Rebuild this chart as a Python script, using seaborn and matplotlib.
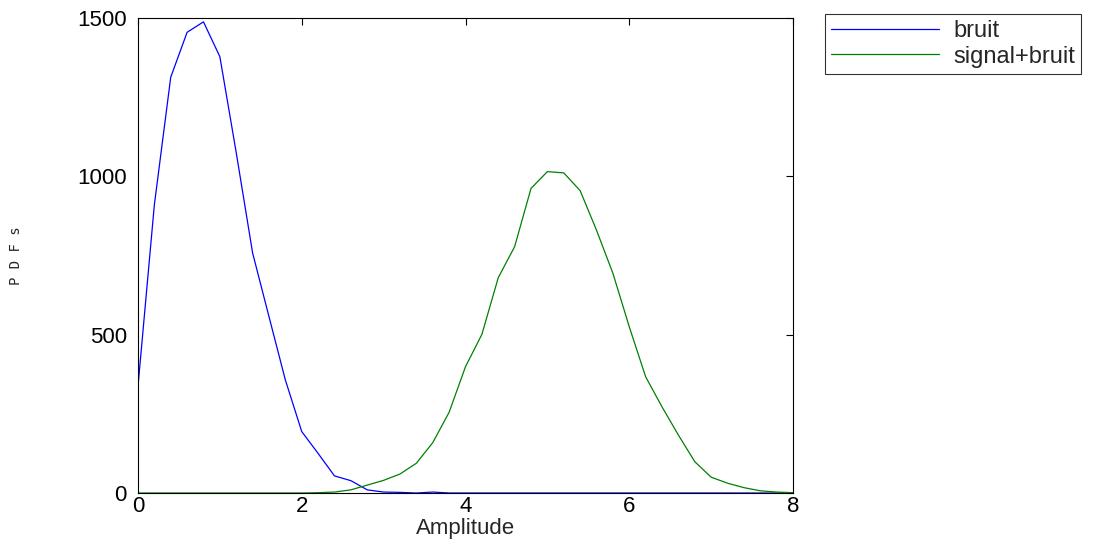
import numpy as np
import pandas as pd
import matplotlib
matplotlib.use("Agg")
import matplotlib.pyplot as plt
import seaborn as sns

# ============================================================
# DATA
# ============================================================

amplitude = [0.0, 0.2, 0.4, 0.6, 0.8, 1.0, 1.2, 1.4, 1.6, 1.8, 2.0,
             2.2, 2.4, 2.6, 2.8, 3.0, 3.2, 3.4, 3.6, 3.8, 4.0,
             4.2, 4.4, 4.6, 4.8, 5.0, 5.2, 5.4, 5.6, 5.8, 6.0,
             6.2, 6.4, 6.6, 6.8, 7.0, 7.2, 7.4, 7.6, 7.8, 8.0]

bruit = [336, 910, 1313, 1455, 1488, 1378, 1075, 758, 557, 357, 194,
         125, 54, 39, 10, 3, 2, 0, 3, 0, 0,
         0, 0, 0, 0, 0, 0, 0, 0, 0, 0,
         0, 0, 0, 0, 0, 0, 0, 0, 0, 0]

signal_bruit = [0, 0, 0, 0, 0, 0, 0, 0, 0, 0, 0,
                1, 3, 10, 25, 40, 60, 94, 159, 255, 399,
                501, 680, 778, 962, 1015, 1011, 955, 830, 694, 525,
                367, 272, 183, 99, 50, 31, 17, 7, 3, 1]

series_names = ["bruit", "signal+bruit"]
series_colors = ["#0000ff", "#008000"]

df = pd.DataFrame({
    "Amplitude": amplitude * 2,
    "PDF": bruit + signal_bruit,
    "serie": [series_names[0]] * len(amplitude) + [series_names[1]] * len(amplitude),
})

# ============================================================
# PLOT
# ============================================================

sns.set_style("white")
plt.rcParams["font.family"] = ["Liberation Sans", "DejaVu Sans"]

FS = 16

fig = plt.figure(figsize=(11.19, 5.47), dpi=100)
ax = fig.add_axes([0.1233, 0.0987, 0.5854, 0.8683])

sns.lineplot(
    data=df,
    x="Amplitude",
    y="PDF",
    hue="serie",
    palette=dict(zip(series_names, series_colors)),
    linewidth=0.9,
    ax=ax,
)

ax.set_xlim(0, 8)
ax.set_ylim(0, 1500)
ax.set_xticks([0, 2, 4, 6, 8])
ax.set_yticks([0, 500, 1000, 1500])

ax.tick_params(direction="in", length=5, width=0.8, top=True, right=True,
               labelsize=FS, colors="black")
ax.tick_params(axis="x", pad=2)
ax.tick_params(axis="y", pad=8)
for s in ax.spines.values():
    s.set_visible(True)
    s.set_color("black")
    s.set_linewidth(0.8)

ax.set_xlabel("Amplitude", fontsize=FS, labelpad=1)
ax.set_ylabel("")
fig.text(0.014, 0.532, "P D F s", rotation=90, fontsize=10,
         family="DejaVu Sans Mono", ha="center", va="center")

leg = ax.legend(
    loc="upper left",
    bbox_to_anchor=(0.737, 0.974),
    bbox_transform=fig.transFigure,
    fontsize=FS + 1,
    frameon=True,
    fancybox=False,
    edgecolor="black",
    handlelength=4.6,
    handletextpad=0.6,
    borderpad=0.25,
    labelspacing=0.15,
    borderaxespad=0,
)
leg.get_frame().set_linewidth(0.8)

plt.savefig("out.png", dpi=100)
